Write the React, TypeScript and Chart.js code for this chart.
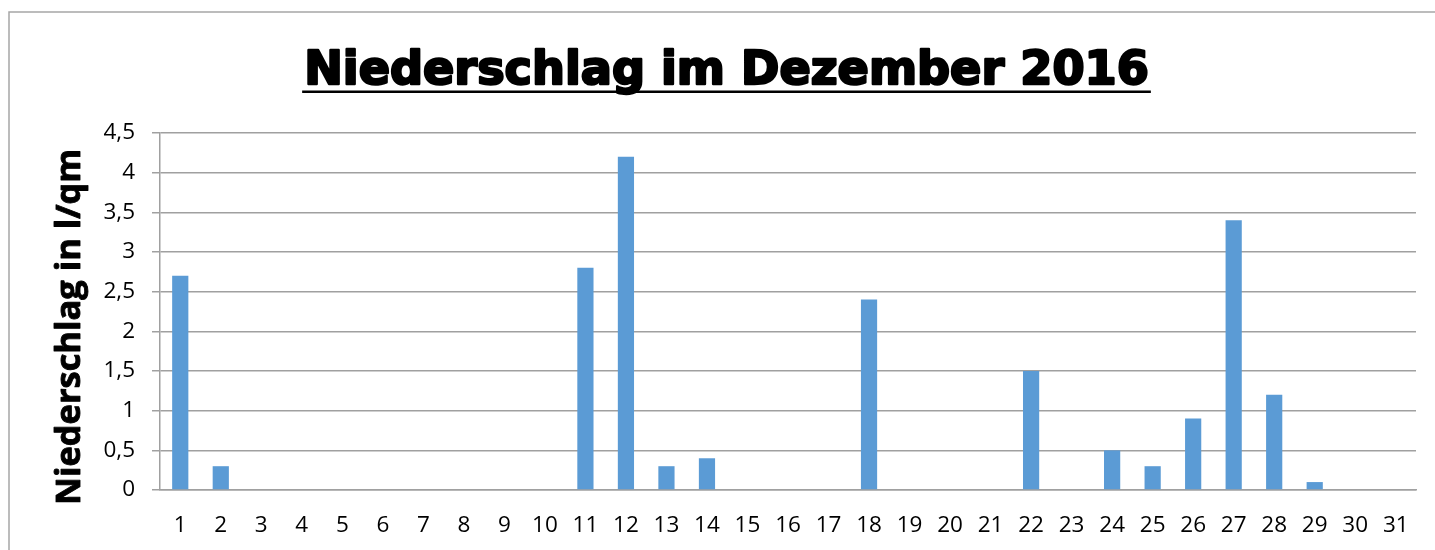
import React, { useEffect, useRef } from "react";
import { Chart, registerables } from "chart.js";

Chart.register(...registerables);

const days: string[] = Array.from({ length: 31 }, (_, i) => String(i + 1));
const rain: number[] = [
  2.7, 0.3, 0, 0, 0, 0, 0, 0, 0, 0,
  2.8, 4.2, 0.3, 0.4, 0, 0, 0, 2.4, 0, 0,
  0, 1.5, 0, 0.5, 0.3, 0.9, 3.4, 1.2, 0.1, 0, 0,
];
const titleText = "Niederschlag im Dezember 2016";
const yTitleText = "Niederschlag in l/qm";

const GRID = "#a0a0a0";

const decor = {
  id: "decor",
  beforeDraw(chart: any) {
    const ctx = chart.ctx as CanvasRenderingContext2D;
    ctx.save();
    ctx.fillStyle = "#fff";
    ctx.fillRect(0, 0, chart.width, chart.height);
    ctx.strokeStyle = "#a6a6a6";
    ctx.lineWidth = 1.5;
    ctx.beginPath();
    ctx.moveTo(9, 560);
    ctx.lineTo(9, 12);
    ctx.lineTo(1440, 12);
    ctx.stroke();
    ctx.restore();
  },
  afterDraw(chart: any) {
    const ctx = chart.ctx as CanvasRenderingContext2D;
    ctx.save();
    let size = 46;
    ctx.font = `bold ${size}px "DejaVu Sans"`;
    let w = ctx.measureText(titleText).width;
    size = size * 845 / w;
    ctx.font = `bold ${size}px "DejaVu Sans"`;
    w = ctx.measureText(titleText).width;
    const cx = 726.5;
    ctx.fillStyle = "#000";
    ctx.strokeStyle = "#000";
    ctx.lineWidth = 2.4;
    ctx.lineJoin = "round";
    ctx.textAlign = "center";
    ctx.textBaseline = "alphabetic";
    ctx.fillText(titleText, cx, 84);
    ctx.strokeText(titleText, cx, 84);
    ctx.fillRect(cx - (w + 4) / 2, 90.5, w + 4, 2.5);

    let ys = 30;
    ctx.font = `bold ${ys}px "Open Sans"`;
    const yw = ctx.measureText(yTitleText).width;
    ys = ys * 356 / yw;
    ctx.font = `bold ${ys}px "Open Sans"`;
    ctx.lineWidth = 0.9;
    ctx.translate(80, 327);
    ctx.rotate(-Math.PI / 2);
    ctx.textAlign = "center";
    ctx.textBaseline = "alphabetic";
    ctx.fillText(yTitleText, 0, 0);
    ctx.strokeText(yTitleText, 0, 0);
    ctx.restore();
  },
};

export default function App() {
  const ref = useRef<HTMLCanvasElement | null>(null);
  useEffect(() => {
    if (!ref.current) return;
    const chart = new Chart(ref.current, {
      type: "bar",
      data: {
        labels: days,
        datasets: [
          {
            data: rain,
            backgroundColor: "#5b9bd5",
            borderWidth: 0,
            categoryPercentage: 1,
            barPercentage: 0.4,
          },
        ],
      },
      options: {
        animation: false,
        responsive: false,
        maintainAspectRatio: false,
        layout: { padding: { top: 133, right: 19, left: 0, bottom: 0 } },
        plugins: {
          legend: { display: false },
          title: { display: false },
          tooltip: { enabled: false },
        },
        scales: {
          x: {
            grid: { display: false, drawTicks: false },
            border: { display: true, color: GRID, width: 1.5 },
            ticks: {
              color: "#000",
              font: { family: "Open Sans", size: 22.5 },
              padding: 22,
              maxRotation: 0,
              autoSkip: false,
            },
            afterFit(scale: any) {
              scale.height = 60;
            },
          },
          y: {
            min: 0,
            max: 4.5,
            grid: { color: GRID, lineWidth: 1.5, tickLength: 8, drawTicks: true },
            border: { display: true, color: GRID, width: 1.5 },
            ticks: {
              stepSize: 0.5,
              color: "#000",
              font: { family: "Open Sans", size: 22.5 },
              padding: 17,
              callback: (v: any) => String(v).replace(".", ","),
            },
            afterFit(scale: any) {
              scale.width = 160;
            },
          },
        },
      },
      plugins: [decor],
    });
    return () => chart.destroy();
  }, []);
  return (
    <div style={{ position: "fixed", left: 0, top: 0, width: 1435, height: 550, background: "#fff" }}>
      <canvas ref={ref} width={1435} height={550} style={{ display: "block" }} />
    </div>
  );
}
